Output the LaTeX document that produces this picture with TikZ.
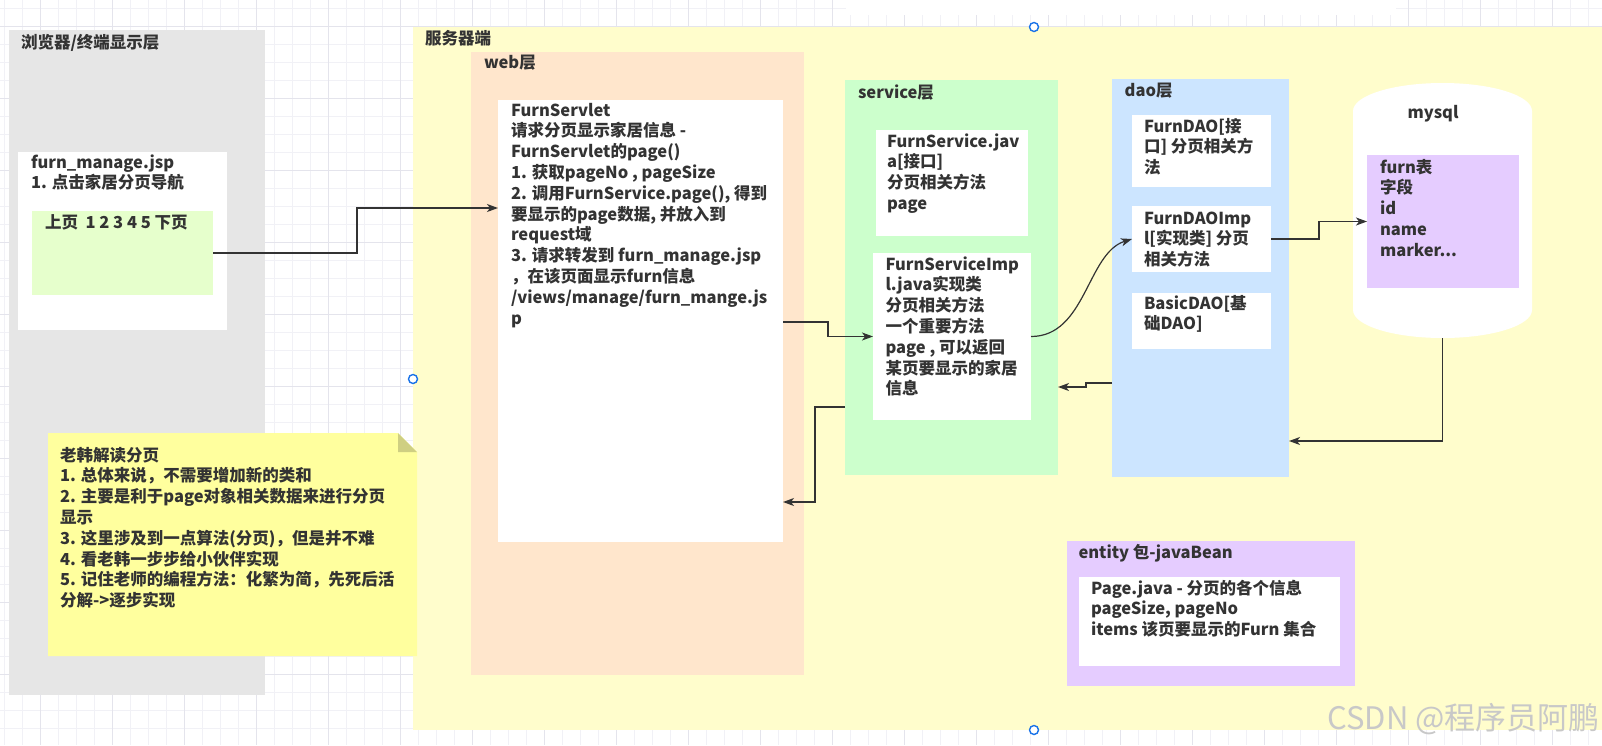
\documentclass[tikz,border=0pt]{standalone}
\usepackage{fontspec}
\setmainfont{Noto Sans CJK SC}
\usetikzlibrary{arrows.meta,calc}

\definecolor{ink}{HTML}{333333}
\definecolor{wire}{HTML}{333333}
\definecolor{gridminor}{HTML}{F1F1F6}
\definecolor{gridmajor}{HTML}{E4E4EC}
\definecolor{browserfill}{HTML}{E6E6E6}
\definecolor{serverfill}{HTML}{FFFDCC}
\definecolor{webfill}{HTML}{FFE6CC}
\definecolor{servicefill}{HTML}{CCFFCC}
\definecolor{daofill}{HTML}{CCE5FF}
\definecolor{violetfill}{HTML}{E5CCFF}
\definecolor{navfill}{HTML}{E6FFCC}
\definecolor{notefill}{HTML}{FFFF9E}
\definecolor{foldfill}{HTML}{CFCF82}
\definecolor{handle}{HTML}{1A73E8}
\definecolor{wmark}{HTML}{C8C8C8}

\newcommand\lblfont{\fontsize{16.5}{20.8}\selectfont\bfseries}

% a multi-line text node sits on the baseline of its last line,
% so "lines=n" moves it down to put the first line at the given point
\tikzset{
  panel/.style={rectangle, draw=none, inner sep=0pt, outer sep=0pt, anchor=north west},
  txt/.style={anchor=base west, inner sep=0pt, outer sep=0pt, align=left, text=ink, font=\lblfont},
  lines/.style={yshift={-(#1-1)*20.8pt}},
  conn/.style={draw=wire, line width=1.2pt, -{Stealth[length=11pt,width=8pt,inset=3pt]}},
  handlemark/.style={circle, draw=handle, line width=1.4pt, fill=white, minimum size=9pt, inner sep=0pt},
}

\begin{document}
\begin{tikzpicture}[x=1pt,y=-1pt]
\useasboundingbox (0,0) rectangle (1602,745);
\fill[white] (0,0) rectangle (1602,745);

% background grid
\foreach \gx in {4.7,22.7,...,1602} \draw[gridminor, line width=0.8pt] (\gx,0) -- (\gx,745);
\foreach \gy in {8.7,26.7,...,745} \draw[gridminor, line width=0.8pt] (0,\gy) -- (1602,\gy);
\foreach \gx in {40.7,112.7,...,1602} \draw[gridmajor, line width=0.9pt] (\gx,0) -- (\gx,745);
\foreach \gy in {26.7,98.7,...,745} \draw[gridmajor, line width=0.9pt] (0,\gy) -- (1602,\gy);
\fill[white] (846,0) rectangle (1396,15);

% browser side
\node[panel, fill=browserfill, minimum width=256pt, minimum height=665pt] (browser) at (9,30) {};
\node[txt] (browserTitle) at (21,48) {浏览器/终端显示层};
\node[panel, fill=white, minimum width=209pt, minimum height=178pt] (jsp) at (18,152) {};
\node[txt, lines=2] (jspText) at (31,168) {furn\_manage.jsp\\1. 点击家居分页导航};
\node[panel, fill=navfill, minimum width=181pt, minimum height=84pt] (nav) at (32,211) {};
\node[txt] (navText) at (45,228) {上页~~1 2 3 4 5 下页};

% server side
\node[panel, fill=serverfill, minimum width=1189pt, minimum height=703pt] (server) at (413,27) {};
\node[txt] (serverTitle) at (425,44) {服务器端};

% web layer
\node[panel, fill=webfill, minimum width=333pt, minimum height=623pt] (web) at (471,52) {};
\node[txt] (webTitle) at (484,68) {web层};
\node[panel, fill=white, minimum width=285pt, minimum height=442pt] (servlet) at (498,100) {};
\node[txt, lines=11] (servletText) at (511,116) {FurnServlet\\
请求分页显示家居信息 -\\
FurnServlet的page()\\
1. 获取pageNo , pageSize\\
2. 调用FurnService.page(), 得到\\
要显示的page数据, 并放入到\\
request域\\
3. 请求转发到 furn\_manage.jsp\\
，在该页面显示furn信息\\
/views/manage/furn\_mange.js\\
p};

% service layer
\node[panel, fill=servicefill, minimum width=213pt, minimum height=395pt] (service) at (845,80) {};
\node[txt] (serviceTitle) at (858,98) {service层};
\node[panel, fill=white, minimum width=152pt, minimum height=106pt] (fsvc) at (876,130) {};
\node[txt, lines=4] (fsvcText) at (887,147) {FurnService.jav\\a[接口]\\分页相关方法\\page};
\node[panel, fill=white, minimum width=158pt, minimum height=167pt] (fsvcimpl) at (873,253) {};
\node[txt, lines=7] (fsvcimplText) at (885.5,270) {FurnServiceImp\\l.java实现类\\分页相关方法\\一个重要方法\\page , 可以返回\\某页要显示的家居\\信息};

% dao layer
\node[panel, fill=daofill, minimum width=177pt, minimum height=398pt] (dao) at (1112,79) {};
\node[txt] (daoTitle) at (1124.7,96) {dao层};
\node[panel, fill=white, minimum width=139pt, minimum height=72pt] (fdao) at (1132,115) {};
\node[txt, lines=3] (fdaoText) at (1144,132) {FurnDAO[接\\口] 分页相关方\\法};
\node[panel, fill=white, minimum width=139pt, minimum height=66pt] (fdaoimpl) at (1132,206) {};
\node[txt, lines=3] (fdaoimplText) at (1144,224) {FurnDAOImp\\l[实现类] 分页\\相关方法};
\node[panel, fill=white, minimum width=139pt, minimum height=56pt] (basicdao) at (1132,293) {};
\node[txt, lines=2] (basicdaoText) at (1144,309) {BasicDAO[基\\础DAO]};

% database cylinder
\node[panel, minimum width=179pt, minimum height=255pt] (mysql) at (1353,83) {};
\fill[white] ($(mysql.north west)+(0,28)$) -- ($(mysql.south west)+(0,-28)$)
  arc[start angle=180, end angle=360, x radius=89.5pt, y radius=28pt]
  -- ($(mysql.north east)+(0,28)$)
  arc[start angle=0, end angle=180, x radius=89.5pt, y radius=28pt] -- cycle;
\node[txt, anchor=base] (mysqlTitle) at (1433,118) {mysql};
\node[panel, fill=violetfill, minimum width=152pt, minimum height=133pt] (table) at (1367,155) {};
\node[txt, lines=5] (tableText) at (1380,173) {furn表\\字段\\id\\name\\marker...};

% entity package
\node[panel, fill=violetfill, minimum width=288pt, minimum height=145pt] (entity) at (1066.5,541) {};
\node[txt] (entityTitle) at (1078.5,558) {entity 包-javaBean};
\node[panel, fill=white, minimum width=261.5pt, minimum height=89pt] (pagebox) at (1078.5,577) {};
\node[txt, lines=3] (pageText) at (1091,594) {Page.java - 分页的各个信息\\pageSize, pageNo\\items 该页要显示的Furn 集合};

% sticky note with folded corner
\node[panel, minimum width=369pt, minimum height=223pt] (note) at (48,433) {};
\fill[notefill] (note.north west) -- ($(note.north east)+(-19,0)$) -- ($(note.north east)+(0,19)$)
  -- (note.south east) -- (note.south west) -- cycle;
\fill[foldfill] ($(note.north east)+(-19,0)$) -- ($(note.north east)+(-19,19)$) -- ($(note.north east)+(0,19)$) -- cycle;
\node[txt, lines=8] (noteText) at (60,461) {老韩解读分页\\
1. 总体来说，不需要增加新的类和\\
2. 主要是利于page对象相关数据来进行分页\\
显示\\
3. 这里涉及到一点算法(分页)，但是并不难\\
4. 看老韩一步步给小伙伴实现\\
5. 记住老师的编程方法：化繁为简，先死后活\\
分解->逐步实现};

% connectors
\draw[conn] (nav.east) -- ++(144,0) |- ($(servlet.north west)+(0,108)$);
\draw[conn] ($(servlet.north east)+(0,222)$) -- ++(45,0) |- (fsvcimpl.west);
\draw[conn] (fsvcimpl.east) .. controls +(55,0) and +(-45,14) .. (fdaoimpl.west);
\draw[conn] (fdaoimpl.east) -- ++(48,0) |- (table.west);
\draw[conn] (mysql.south) |- ($(dao.north east)+(0,362)$);
\draw[conn] ($(dao.north west)+(0,304)$) -- ++(-26,0) |- ($(service.north east)+(0,307)$);
\draw[conn] ($(service.north west)+(0,327)$) -- ++(-30,0) |- ($(servlet.north east)+(0,402)$);

% selection handles
\node[handlemark] (handleTop) at (1034,27) {};
\node[handlemark] (handleLeft) at (413,379) {};
\node[handlemark] (handleBottom) at (1034,730) {};

% watermark
\node[anchor=base east, inner sep=0pt, text=wmark, font=\fontsize{31}{34}\selectfont] (wm) at (1600,729) {CSDN @程序员阿鹏};
\end{tikzpicture}
\end{document}
